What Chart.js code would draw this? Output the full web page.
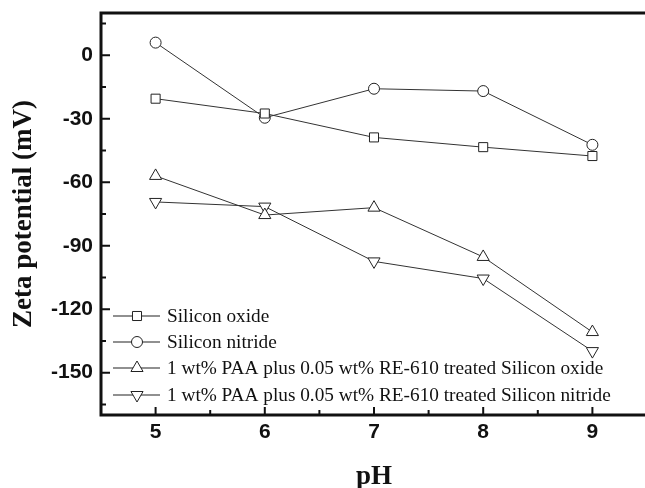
<!DOCTYPE html>
<html>
<head>
<meta charset="utf-8">
<script src="https://cdn.jsdelivr.net/npm/chart.js@4/dist/chart.umd.min.js"></script>
<style>
  html, body { margin: 0; padding: 0; background: #fff; overflow: hidden; }
  #wrap { width: 655px; height: 488px; }
</style>
</head>
<body>
<div id="wrap"><canvas id="myChart" width="655" height="488"></canvas></div>
<script>
const phValues = [5, 6, 7, 8, 9];
const siliconOxide = [-20.5, -27.5, -38.8, -43.4, -47.6];
const siliconNitride = [6, -29.5, -15.8, -16.9, -42.3];
const paaOxide = [-57, -75.5, -72, -95.3, -130.8];
const paaNitride = [-69.3, -71.5, -97.4, -105.5, -139.8];
const xTicks = [5, 6, 7, 8, 9];
const yTicks = [-150, -120, -90, -60, -30, 0];
const seriesNames = [
  'Silicon oxide',
  'Silicon nitride',
  '1 wt% PAA plus 0.05 wt% RE-610 treated Silicon oxide',
  '1 wt% PAA plus 0.05 wt% RE-610 treated Silicon nitride'
];

const pts = arr => arr.map((v, i) => ({ x: phValues[i], y: v }));

function makeSet(label, values, style, radius, rotation) {
  return {
    label: label,
    data: pts(values),
    borderColor: '#333',
    borderWidth: 1,
    pointStyle: style,
    pointRadius: radius,
    pointRotation: rotation,
    pointBorderColor: '#222',
    pointBorderWidth: 1,
    pointBackgroundColor: '#fff',
    tension: 0
  };
}

function marker(ctx, style, x, y, r, rot) {
  ctx.save();
  ctx.translate(x, y);
  ctx.rotate(rot * Math.PI / 180);
  ctx.beginPath();
  if (style === 'circle') {
    ctx.arc(0, 0, r, 0, Math.PI * 2);
  } else if (style === 'rect') {
    const s = r * Math.SQRT1_2;
    ctx.rect(-s, -s, 2 * s, 2 * s);
  } else {
    ctx.moveTo(0, -r);
    ctx.lineTo(r * 0.866, r * 0.5);
    ctx.lineTo(-r * 0.866, r * 0.5);
    ctx.closePath();
  }
  ctx.fillStyle = '#fff';
  ctx.fill();
  ctx.strokeStyle = '#222';
  ctx.lineWidth = 1;
  ctx.stroke();
  ctx.restore();
}

const framePlugin = {
  id: 'frame',
  afterDatasetsDraw(chart) {
    const { ctx, chartArea: a, scales } = chart;
    const xs = scales.x, ys = scales.y;
    ctx.save();
    ctx.strokeStyle = '#111';
    ctx.lineWidth = 3;
    ctx.beginPath();
    ctx.moveTo(a.right, a.top);
    ctx.lineTo(a.left, a.top);
    ctx.lineTo(a.left, a.bottom);
    ctx.lineTo(a.right, a.bottom);
    ctx.stroke();

    // inward ticks
    ctx.lineWidth = 2;
    ctx.beginPath();
    xTicks.forEach(v => {
      const px = xs.getPixelForValue(v);
      ctx.moveTo(px, a.bottom);
      ctx.lineTo(px, a.bottom - 8);
      const pm = xs.getPixelForValue(v + 0.5);
      ctx.moveTo(pm, a.bottom);
      ctx.lineTo(pm, a.bottom - 5);
    });
    yTicks.forEach(v => {
      const py = ys.getPixelForValue(v);
      ctx.moveTo(a.left, py);
      ctx.lineTo(a.left + 9, py);
    });
    [-165, -135, -105, -75, -45, -15, 15].forEach(v => {
      const py = ys.getPixelForValue(v);
      ctx.moveTo(a.left, py);
      ctx.lineTo(a.left + 5, py);
    });
    ctx.stroke();

    // legend inside the plot
    const rows = [316, 342, 368, 395];
    ctx.font = '19.3px "Liberation Serif", "Times New Roman", serif';
    ctx.textBaseline = 'middle';
    ctx.fillStyle = '#111';
    chart.data.datasets.forEach((ds, i) => {
      const y = rows[i];
      ctx.strokeStyle = '#222';
      ctx.lineWidth = 1.2;
      ctx.beginPath();
      ctx.moveTo(113, y);
      ctx.lineTo(160, y);
      ctx.stroke();
      marker(ctx, ds.pointStyle, 137, y, ds.pointRadius, ds.pointRotation);
      ctx.fillText(seriesNames[i], 167, y + 1);
    });
    ctx.restore();
  }
};

const ctx = document.getElementById('myChart');

new Chart(ctx, {
  type: 'line',
  data: {
    datasets: [
      makeSet(seriesNames[0], siliconOxide, 'rect', 6.4, 0),
      makeSet(seriesNames[1], siliconNitride, 'circle', 5.5, 0),
      makeSet(seriesNames[2], paaOxide, 'triangle', 7, 0),
      makeSet(seriesNames[3], paaNitride, 'triangle', 7, 180)
    ]
  },
  options: {
    responsive: false,
    animation: false,
    devicePixelRatio: 1,
    layout: { padding: { left: 0, top: 13, right: 5, bottom: 0 } },
    plugins: { legend: { display: false }, tooltip: { enabled: false } },
    scales: {
      x: {
        type: 'linear',
        min: 4.5,
        max: 9.5,
        grid: { display: false, drawTicks: false },
        border: { display: false },
        afterBuildTicks: s => { s.ticks = xTicks.map(v => ({ value: v })); },
        afterFit: s => { s.height = 73; s.paddingLeft = 0; s.paddingRight = 0; },
        ticks: {
          padding: 5,
          color: '#111',
          font: { family: '"Liberation Sans", Arial, sans-serif', size: 21, weight: 'bold' }
        },
        title: {
          display: true,
          text: 'pH',
          color: '#111',
          padding: { top: 0, bottom: -5 },
          font: { family: '"Liberation Serif", "Times New Roman", serif', size: 27, weight: 'bold' }
        }
      },
      y: {
        min: -170,
        max: 20,
        grid: { display: false, drawTicks: false },
        border: { display: false },
        afterBuildTicks: s => { s.ticks = yTicks.map(v => ({ value: v })); },
        afterFit: s => { s.width = 101; s.paddingTop = 0; s.paddingBottom = 0; },
        ticks: {
          padding: 8,
          color: '#111',
          font: { family: '"Liberation Sans", Arial, sans-serif', size: 21, weight: 'bold' }
        },
        title: {
          display: true,
          text: 'Zeta potential (mV)',
          color: '#111',
          padding: { top: 8, bottom: 0 },
          font: { family: '"Liberation Serif", "Times New Roman", serif', size: 27, weight: 'bold' }
        }
      }
    }
  },
  plugins: [framePlugin]
});
</script>
</body>
</html>
